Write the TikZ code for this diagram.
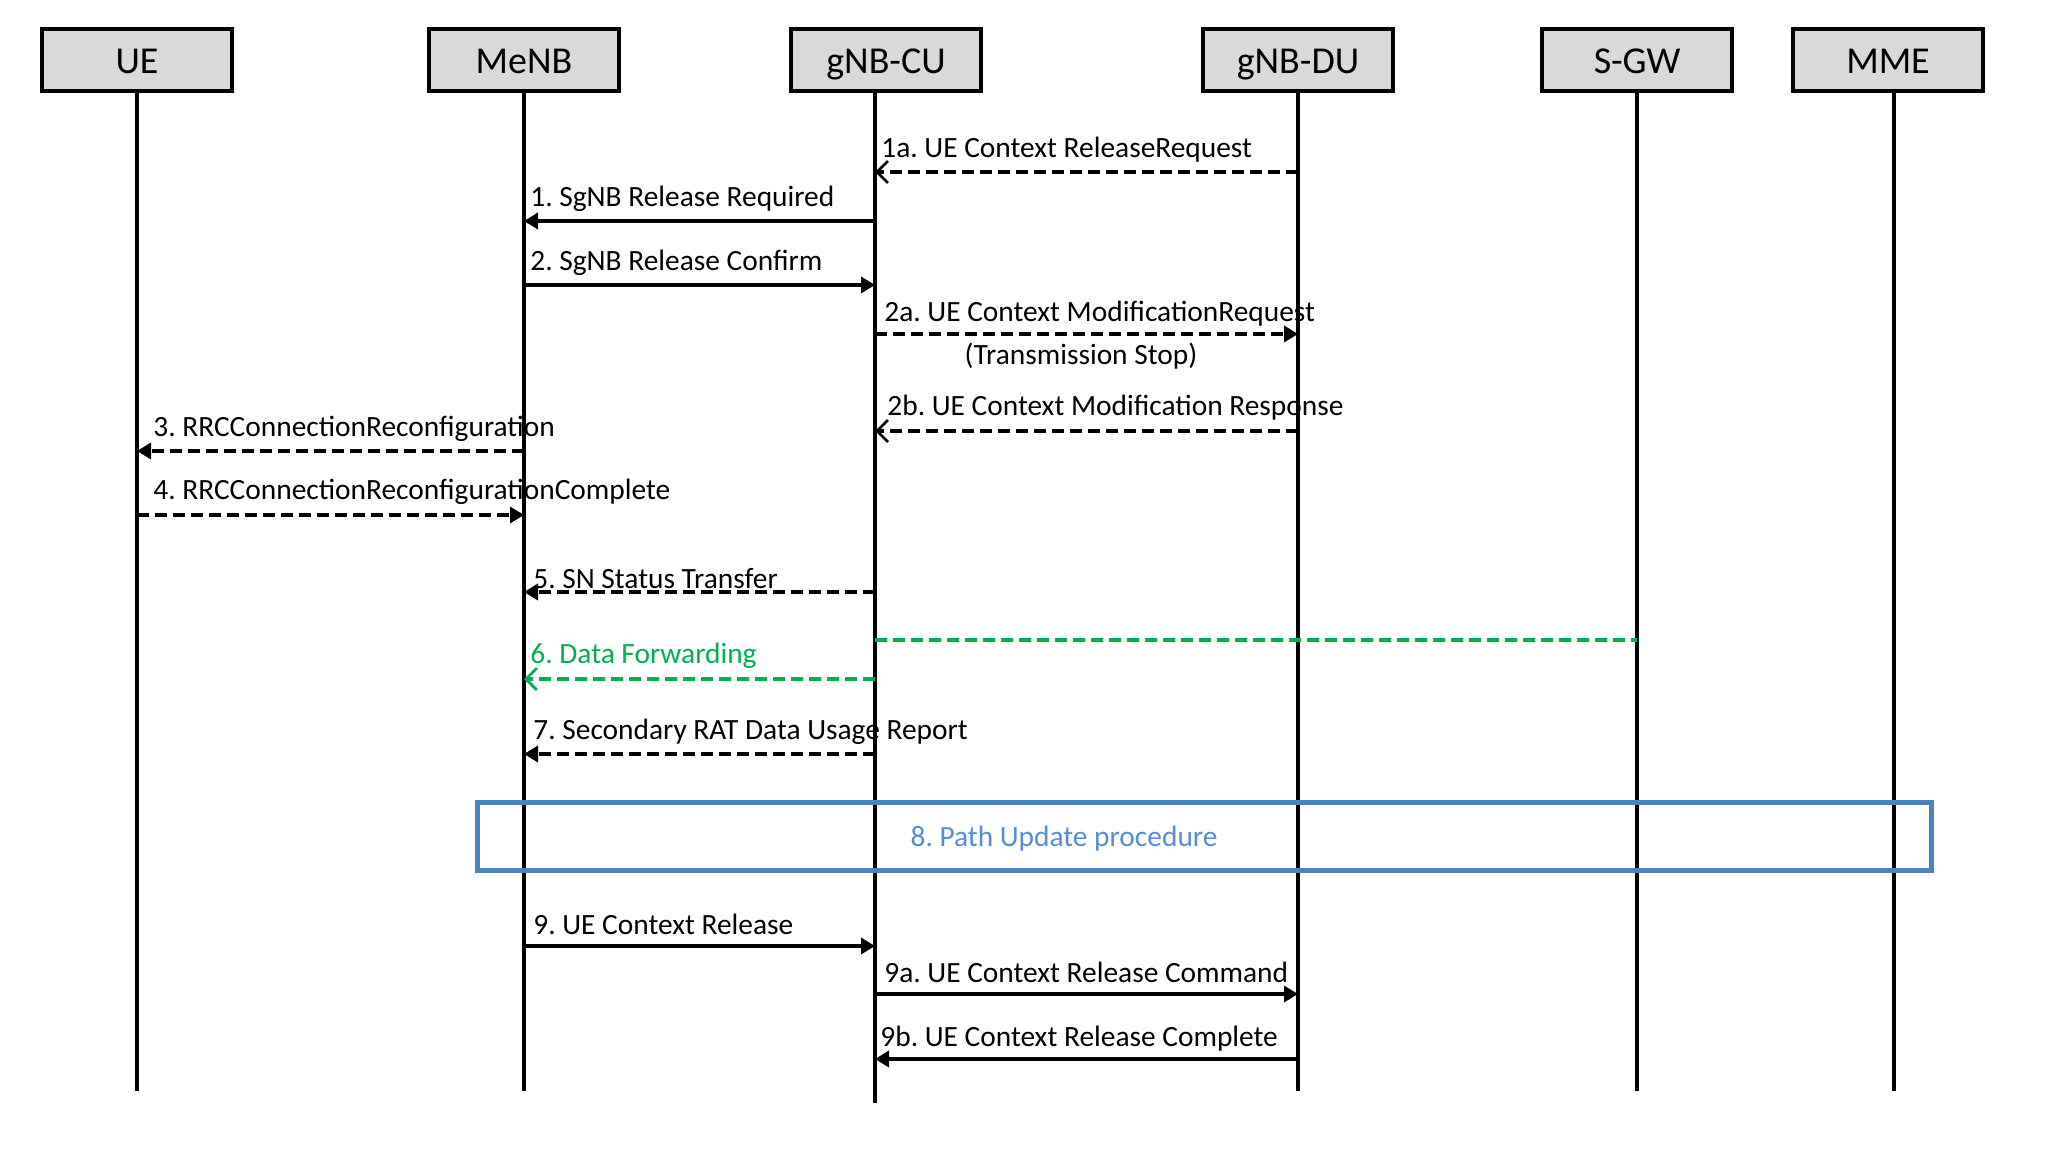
\documentclass[tikz,border=0pt]{standalone}
\usepackage{fontspec}
\setmainfont{Carlito}
\usetikzlibrary{arrows.meta}
\definecolor{boxgray}{HTML}{D9D9D9}
\definecolor{dfgreen}{HTML}{00B050}
\definecolor{pathblue}{HTML}{4F81BD}
\definecolor{pathtext}{HTML}{558ED5}
\frenchspacing
\begin{document}
\frenchspacing
\begin{tikzpicture}[x=0.5pt,y=-0.5pt,
  actor/.style={draw, line width=2.2pt, fill=boxgray, minimum width=95pt, minimum height=31pt, inner sep=0pt, text height=17pt, text depth=3pt, font=\fontsize{19}{22}\selectfont},
  life/.style={line width=1.6pt},
  lbl/.style={anchor=west, inner sep=0pt, font=\fontsize{14.7}{17}\selectfont},
  msg/.style={line width=2.2pt, -{Triangle[length=7pt,width=8pt]}},
  dmsg/.style={msg, dash pattern=on 6pt off 3pt},
  bmsg/.style={line width=2.2pt, dash pattern=on 6pt off 3pt, -{Straight Barb[length=5.5pt,width=11pt,line width=1.4pt]}}
]
\useasboundingbox (0,0) rectangle (2048,1156);
% actors
\node[actor] (ue)   at (137,60)  {UE};
\node[actor] (menb) at (524,60)  {MeNB};
\node[actor] (cu)   at (886,60)  {gNB-CU};
\node[actor] (du)   at (1298,60) {gNB-DU};
\node[actor] (sgw)  at (1637,60) {S-GW};
\node[actor] (mme)  at (1888,60) {MME};
% lifeline tops and bottoms
\coordinate (ueT)   at (137,93);   \coordinate (ueB)   at (137,1091);
\coordinate (menbT) at (524,93);   \coordinate (menbB) at (524,1091);
\coordinate (cuT)   at (875,93);   \coordinate (cuB)   at (875,1103);
\coordinate (duT)   at (1298,93);  \coordinate (duB)   at (1298,1091);
\coordinate (sgwT)  at (1637,93);  \coordinate (sgwB)  at (1637,1091);
\coordinate (mmeT)  at (1894,93);  \coordinate (mmeB)  at (1894,1091);
\foreach \l in {ue,menb,cu,du,sgw,mme} \draw[life] (\l T) -- (\l B);
% message rows
\coordinate (r1a) at (0,172);
\coordinate (r1)  at (0,221);
\coordinate (r2)  at (0,285);
\coordinate (r2a) at (0,334);
\coordinate (r2b) at (0,431);
\coordinate (r3)  at (0,451);
\coordinate (r4)  at (0,515);
\coordinate (r5)  at (0,592);
\coordinate (rg)  at (0,640);
\coordinate (r6)  at (0,679);
\coordinate (r7)  at (0,754);
\coordinate (r9)  at (0,946);
\coordinate (r9a) at (0,994);
\coordinate (r9b) at (0,1059);
% messages
\draw[bmsg] (duT |- r1a) -- (cuT |- r1a);
\node[lbl] (l1a) at (881,150) {1a. UE Context ReleaseRequest};
\draw[msg] (cuT |- r1) -- (menbT |- r1);
\node[lbl] (l1) at (530,199) {1. SgNB Release Required};
\draw[msg] (menbT |- r2) -- (cuT |- r2);
\node[lbl] (l2) at (530,263) {2. SgNB Release Confirm};
\draw[dmsg] (cuT |- r2a) -- (duT |- r2a);
\node[lbl] (l2a) at (884,314) {2a. UE Context ModificationRequest};
\node[lbl, anchor=center] (l2a2) at (1081,356) {(Transmission Stop)};
\draw[bmsg] (duT |- r2b) -- (cuT |- r2b);
\node[lbl] (l2b) at (887,408) {2b. UE Context Modification Response};
\draw[dmsg] (menbT |- r3) -- (ueT |- r3);
\node[lbl] (l3) at (153,429) {3. RRCConnectionReconfiguration};
\draw[dmsg] (ueT |- r4) -- (menbT |- r4);
\node[lbl] (l4) at (153,492) {4. RRCConnectionReconfigurationComplete};
\draw[dmsg] (cuT |- r5) -- (menbT |- r5);
\node[lbl] (l5) at (533,579) {5. SN Status Transfer};
\draw[line width=2.2pt, dash pattern=on 6pt off 3pt, dfgreen] (cuT |- rg) -- (sgwT |- rg);
\draw[bmsg, dfgreen] (cuT |- r6) -- (menbT |- r6);
\node[lbl, text=dfgreen] (l6) at (530,656) {6. Data Forwarding};
\draw[dmsg] (cuT |- r7) -- (menbT |- r7);
\node[lbl] (l7) at (533,732) {7. Secondary RAT Data Usage Report};
% path update box
\node[draw=pathblue, line width=2.2pt, minimum width=727pt, minimum height=34pt, inner sep=0pt] (path) at (1204.5,836.5) {};
\node[lbl, anchor=center, text=pathtext] (l8) at (1064,839) {8. Path Update procedure};
\draw[msg] (menbT |- r9) -- (cuT |- r9);
\node[lbl] (l9) at (533,924) {9. UE Context Release};
\draw[msg] (cuT |- r9a) -- (duT |- r9a);
\node[lbl] (l9a) at (884,972) {9a. UE Context Release Command};
\draw[msg] (duT |- r9b) -- (cuT |- r9b);
\node[lbl] (l9b) at (880,1039) {9b. UE Context Release Complete};
\end{tikzpicture}
\end{document}
